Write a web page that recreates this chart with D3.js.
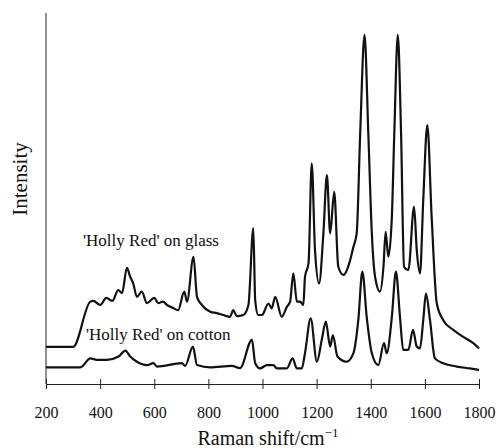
<!DOCTYPE html>
<html>
<head>
<meta charset="utf-8">
<script src="https://cdn.jsdelivr.net/npm/d3@7"></script>
<style>
  body { margin: 0; background: #fff; }
  text { font-family: "Liberation Serif", "Times New Roman", serif; fill: #111; }
</style>
</head>
<body>
<div id="chart"></div>
<script>
var width = 499, height = 448;

// x ticks (Raman shift / cm-1)
var xTicks = [200, 400, 600, 800, 1000, 1200, 1400, 1600, 1800];

// 'Holly Red' on glass: [shift, intensity]
var glass = [
  [200, 10.0], [300, 10.0], [364, 22.2], [375, 22.4], [400, 21.3], [423, 23.2],
  [445, 22.4], [467, 25.3], [481, 24.5], [499, 31.3], [511, 28.9], [522, 27.2],
  [536, 23.5], [554, 24.9], [573, 21.8], [600, 23.2], [615, 21.8], [632, 22.2],
  [647, 21.3], [670, 20.5], [688, 19.9], [711, 24.9], [721, 22.2], [745, 34.3],
  [758, 23.5], [776, 21.3], [807, 19.5], [831, 19.1], [855, 18.6], [880, 18.1],
  [892, 19.9], [905, 18.3], [929, 18.6], [948, 21.3], [966, 42.0], [973, 22.6],
  [984, 18.6], [998, 18.6], [1022, 21.7], [1034, 20.4], [1047, 23.5], [1071, 18.1],
  [1090, 20.8], [1102, 22.2], [1114, 29.8], [1127, 22.2], [1139, 22.2], [1151, 21.3],
  [1157, 28.9], [1170, 32.5], [1182, 59.5], [1194, 36.1], [1209, 27.1], [1225, 40.6],
  [1238, 56.3], [1250, 40.6], [1265, 51.8], [1280, 31.6], [1299, 29.4], [1324, 33.4],
  [1336, 37.0], [1348, 40.6], [1361, 67.6], [1377, 94.1], [1391, 67.6], [1404, 40.6],
  [1416, 28.9], [1434, 24.9], [1447, 31.6], [1455, 41.0], [1465, 34.3], [1478, 45.1],
  [1487, 67.6], [1500, 94.1], [1512, 67.6], [1523, 31.6], [1539, 30.7], [1560, 47.8],
  [1570, 36.1], [1582, 29.8], [1594, 49.6], [1609, 69.8], [1625, 45.1], [1644, 21.7],
  [1668, 17.2], [1705, 14.6], [1742, 12.7], [1779, 11.0], [1800, 9.6]
];

// 'Holly Red' on cotton: [shift, intensity]
var cotton = [
  [200, 4.5], [327, 4.5], [364, 6.9], [388, 6.5], [425, 6.5], [468, 7.4],
  [493, 9.0], [511, 7.4], [536, 6.0], [573, 5.1], [597, 5.6], [610, 4.7],
  [702, 5.6], [714, 4.9], [743, 10.1], [758, 5.1], [807, 4.5], [887, 4.9],
  [917, 4.3], [961, 11.9], [973, 5.6], [991, 4.2], [1016, 5.1], [1040, 5.1],
  [1053, 4.2], [1090, 4.2], [1111, 6.9], [1127, 4.2], [1145, 4.2], [1157, 8.3],
  [1178, 17.7], [1201, 6.0], [1219, 11.9], [1234, 16.8], [1250, 10.1], [1260, 13.2],
  [1277, 7.4], [1311, 6.0], [1336, 8.3], [1354, 17.2], [1369, 30.3], [1385, 18.1],
  [1404, 8.3], [1428, 5.1], [1449, 11.0], [1459, 8.3], [1478, 18.1], [1493, 30.3],
  [1508, 18.1], [1520, 9.2], [1539, 9.2], [1556, 14.6], [1570, 10.1], [1582, 9.6],
  [1594, 17.2], [1604, 24.4], [1619, 17.2], [1637, 6.9], [1668, 5.6], [1718, 4.7],
  [1766, 4.2], [1800, 3.8]
];

var labels = ["'Holly Red' on glass", "'Holly Red' on cotton"];

var svg = d3.select('#chart').append('svg')
  .attr('width', width)
  .attr('height', height);

var x = d3.scaleLinear().domain([200, 1800]).range([46, 479]);
var y = d3.scaleLinear().domain([0, 100]).range([384, 13]);

// y axis: plain line, no ticks
svg.append('line')
  .attr('x1', x(200)).attr('x2', x(200))
  .attr('y1', y(100)).attr('y2', y(0))
  .attr('stroke', '#222')
  .attr('stroke-width', 1);

// x axis with ticks crossing the line
var xAxis = svg.append('g')
  .attr('transform', `translate(0, ${y(0)})`)
  .call(d3.axisBottom(x).tickValues(xTicks).tickSize(0).tickPadding(22).tickFormat(d3.format('d')));
xAxis.select('.domain').attr('stroke', '#222');
xAxis.selectAll('.tick line').attr('y1', -5).attr('y2', 5).attr('stroke', '#222');
xAxis.selectAll('.tick text')
  .attr('dy', 0)
  .attr('y', 34)
  .style('font-family', '"Liberation Serif", serif')
  .style('font-size', '16px')
  .attr('fill', '#111');

var line = d3.line()
  .x(function(d) { return x(d[0]); })
  .y(function(d) { return y(d[1]); })
  .curve(d3.curveMonotoneX);

svg.append('path')
  .datum(glass)
  .attr('d', line)
  .attr('fill', 'none')
  .attr('stroke', '#111')
  .attr('stroke-width', 2.2)
  .attr('stroke-linejoin', 'round');

svg.append('path')
  .datum(cotton)
  .attr('d', line)
  .attr('fill', 'none')
  .attr('stroke', '#111')
  .attr('stroke-width', 2.2)
  .attr('stroke-linejoin', 'round');

// series labels
svg.append('text')
  .attr('x', 83)
  .attr('y', 246)
  .style('font-size', '17px')
  .text(labels[0]);

svg.append('text')
  .attr('x', 86)
  .attr('y', 340)
  .style('font-size', '17px')
  .text(labels[1]);

// axis titles
var xt = svg.append('text')
  .attr('x', 268)
  .attr('y', 445)
  .attr('text-anchor', 'middle')
  .style('font-size', '20px')
  .text('Raman shift/cm');
xt.append('tspan')
  .attr('dy', -8)
  .style('font-size', '13px')
  .text('\u22121');

svg.append('text')
  .attr('transform', 'translate(27, 179) rotate(-90)')
  .attr('text-anchor', 'middle')
  .style('font-size', '21px')
  .text('Intensity');
</script>
</body>
</html>
